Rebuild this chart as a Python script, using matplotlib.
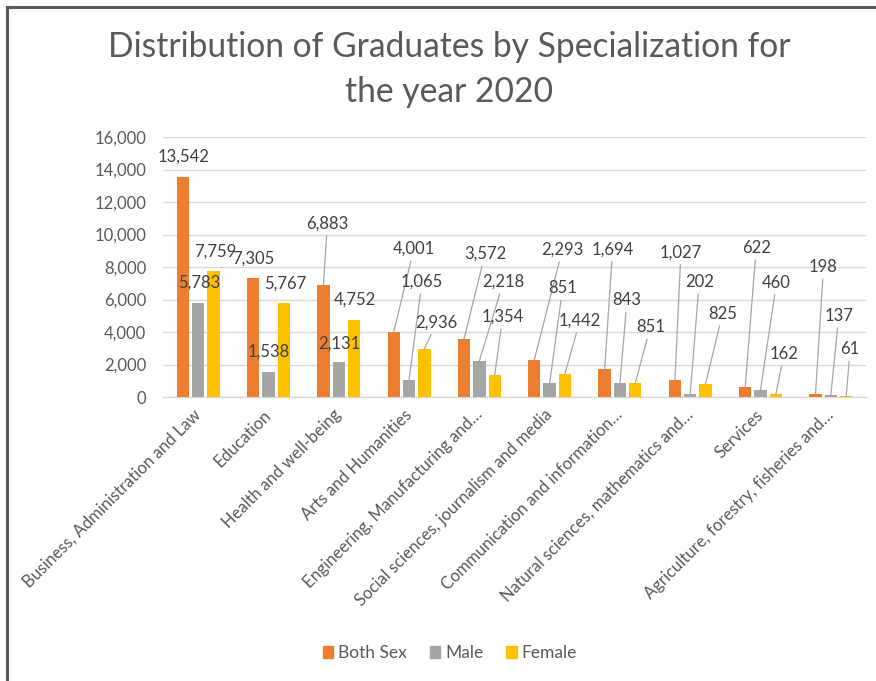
import matplotlib
matplotlib.use("Agg")
import matplotlib.pyplot as plt
from matplotlib.lines import Line2D
from matplotlib.ticker import FuncFormatter
import numpy as np

plt.rcParams['font.family'] = ['Lato', 'DejaVu Sans']

categories = [
    "Business, Administration and Law",
    "Education",
    "Health and well-being",
    "Arts and Humanities",
    "Engineering, Manufacturing and…",
    "Social sciences, journalism and media",
    "Communication and information…",
    "Natural sciences, mathematics and…",
    "Services",
    "Agriculture, forestry, fisheries and…",
]
both_sex = [13542, 7305, 6883, 4001, 3572, 2293, 1694, 1027, 622, 198]
male = [5783, 1538, 2131, 1065, 2218, 851, 843, 202, 460, 137]
female = [7759, 5767, 4752, 2936, 1354, 1442, 851, 825, 162, 61]
series_names = ["Both Sex", "Male", "Female"]
colors = ["#ED7D31", "#A5A5A5", "#FFC000"]

# label offsets (pixels) from bar top: layout only
offsets_both = [(1, 20), (0, 20), (4, 62), (20, 83), (21, 85), (28, 110), (8, 120), (6, 128), (11, 139), (8, 127)]
offsets_male = [(1, 20), (0, 20), (1, 19), (13, 98), (24, 79), (13, 95), (7, 83), (9, 112), (16, 107), (8, 79)]
offsets_female = [(2, 19), (1, 20), (1, 20), (12, 27), (8, 58), (15, 53), (15, 56), (17, 70), (8, 40), (4, 47)]

W, H = 876, 681
fig = plt.figure(figsize=(W / 100, H / 100), dpi=100)
fig.patch.set_facecolor("white")

ax = fig.add_axes([163 / W, 1 - 397 / H, 703 / W, 260 / H])
x = np.arange(len(categories))
bw = 0.175
step = 0.218
series = [both_sex, male, female]
offs = [offsets_both, offsets_male, offsets_female]
for k, (vals, col) in enumerate(zip(series, colors)):
    xs = x + (k - 1) * step
    ax.bar(xs, vals, width=bw, color=col, zorder=3, label=series_names[k])
    for xi, v, (dx, dy) in zip(xs, vals, offs[k]):
        kw = {}
        if dy > 24:
            kw["arrowprops"] = dict(arrowstyle="-", color="#A6A6A6", lw=0.9,
                                    shrinkA=1, shrinkB=0)
        ax.annotate(f"{v:,}", xy=(xi, v), xytext=(dx, dy), textcoords="offset pixels",
                    ha="center", va="center", fontsize=12, color="#404040",
                    zorder=5, **kw)

ax.set_xlim(-0.5, len(categories) - 0.5)
ax.set_ylim(0, 16000)
ax.set_yticks(np.arange(0, 16001, 2000))
ax.yaxis.set_major_formatter(FuncFormatter(lambda v, p: f"{int(v):,}"))
ax.grid(axis="y", color="#D9D9D9", lw=1, zorder=0)
ax.set_axisbelow(True)
for s in ["top", "right", "left"]:
    ax.spines[s].set_visible(False)
ax.spines["bottom"].set_color("#D9D9D9")
ax.spines["bottom"].set_linewidth(1)
ax.tick_params(axis="y", length=0, pad=12, labelsize=12, labelcolor="#595959")
ax.tick_params(axis="x", length=0, pad=11, labelsize=12, labelcolor="#595959")
ax.set_xticks(x)
ax.set_xticklabels(categories, rotation=45, ha="right", va="center", rotation_mode="anchor")

fig.text(449 / W, 1 - 47 / H, "Distribution of Graduates by Specialization for",
         ha="center", va="center", fontsize=24.2, color="#595959")
fig.text(449 / W, 1 - 92 / H, "the year 2020",
         ha="center", va="center", fontsize=24.2, color="#595959")

handles = [plt.Rectangle((0, 0), 1, 1, color=c) for c in colors]
fig.legend(handles, series_names, loc="center", bbox_to_anchor=(450 / W, 1 - 653 / H),
           ncol=3, frameon=False, fontsize=12.5, handlelength=0.6, handleheight=0.7,
           handletextpad=0.3, columnspacing=1.3, labelcolor="#595959")

fig.add_artist(Line2D([6.5 / W, 1], [1 - 6.5 / H, 1 - 6.5 / H], transform=fig.transFigure,
                      color="#595959", lw=2.2))
fig.add_artist(Line2D([6.5 / W, 6.5 / W], [0, 1 - 6.5 / H], transform=fig.transFigure,
                      color="#595959", lw=2.2))

fig.savefig("out.png", dpi=100)
